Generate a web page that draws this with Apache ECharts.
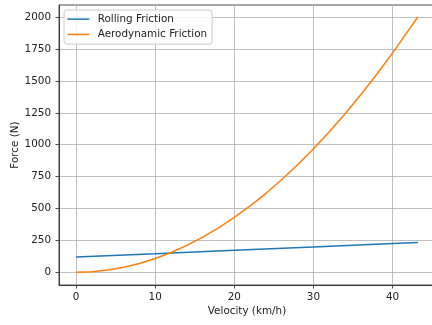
<!DOCTYPE html>
<html>
<head>
<meta charset="utf-8">
<script src="https://cdn.jsdelivr.net/npm/echarts@6/dist/echarts.min.js"></script>
<style>
  html, body { margin: 0; padding: 0; background: #fff; }
  #chart { width: 432px; height: 325px; }
</style>
</head>
<body>
<div id="chart"></div>
<script>
// velocity (km/h) and force (N)
let rollingV = [0, 10, 20, 30, 40, 43.2];
let rollingF = [120, 146, 173, 199, 226, 234];

let aeroV = [0, 2, 4, 6, 8, 10, 12, 14, 16, 18, 20, 22, 24, 26, 28, 30, 32, 34, 36, 38, 40, 42, 43.2];
let aeroF = [0, 4, 17, 39, 69, 108, 155, 211, 275, 348, 430, 520, 619, 727, 843, 968, 1101, 1243, 1393, 1552, 1720, 1896, 2003];

let xTicks = [0, 10, 20, 30, 40];
let yTicks = [0, 250, 500, 750, 1000, 1250, 1500, 1750, 2000];

const font = 'DejaVu Sans';
const fs = 10.4;

let chart = echarts.init(document.getElementById('chart'), null, { renderer: 'canvas' });

const option = {
    animation: false,
    backgroundColor: '#fff',
    textStyle: { fontFamily: font },
    grid: {
        left: 59, top: 5, right: -3, bottom: 40,
        outerBoundsMode: 'none',
        containLabel: false,
        show: true,
        borderColor: '#222',
        borderWidth: 0.8
    },
    legend: {
        left: 64,
        top: 10,
        orient: 'vertical',
        icon: 'rect',
        itemWidth: 22,
        itemHeight: 1.5,
        itemGap: 0,
        padding: [1.5, 5, 2, 3.3],
        borderColor: '#ccc',
        borderWidth: 1,
        borderRadius: 3,
        backgroundColor: 'rgba(255,255,255,0.8)',
        textStyle: { fontFamily: font, fontSize: fs, color: '#222', lineHeight: 15.3, padding: [0, 0, 0, 3.4] },
        data: ['Rolling Friction', 'Aerodynamic Friction']
    },
    xAxis: {
        type: 'value',
        min: -2.16,
        max: 45.36,
        name: 'Velocity (km/h)',
        nameLocation: 'middle',
        nameGap: 21,
        nameMoveOverlap: false,
        nameTextStyle: { fontFamily: font, fontSize: fs, color: '#222' },
        axisLine: { show: true, onZero: false, lineStyle: { color: '#222', width: 0.8 } },
        axisTick: { show: true, length: 3.5, inside: false, lineStyle: { color: '#222', width: 0.8 }, customValues: xTicks },
        axisLabel: { fontFamily: font, fontSize: fs, color: '#222', margin: 7, customValues: xTicks, formatter: v => String(v) },
        splitLine: { show: true, lineStyle: { color: '#b0b0b0', width: 0.8 } }
    },
    yAxis: {
        type: 'value',
        min: -99.75,
        max: 2095,
        name: 'Force (N)',
        nameLocation: 'middle',
        nameRotate: 90,
        nameGap: 39,
        nameMoveOverlap: false,
        nameTextStyle: { fontFamily: font, fontSize: fs, color: '#222' },
        axisLine: { show: true, onZero: false, lineStyle: { color: '#222', width: 0.8 } },
        axisTick: { show: true, length: 3.5, inside: false, lineStyle: { color: '#222', width: 0.8 }, customValues: yTicks },
        axisLabel: { fontFamily: font, fontSize: fs, color: '#222', margin: 8, customValues: yTicks, formatter: v => String(v) },
        splitLine: { show: true, lineStyle: { color: '#b0b0b0', width: 0.8 } }
    },
    series: [
        {
            name: 'Rolling Friction',
            type: 'line',
            symbol: 'none',
            lineStyle: { color: '#1f77b4', width: 1.5 },
            itemStyle: { color: '#1f77b4' },
            data: rollingV.map((v, i) => [v, rollingF[i]])
        },
        {
            name: 'Aerodynamic Friction',
            type: 'line',
            symbol: 'none',
            lineStyle: { color: '#ff7f0e', width: 1.5 },
            itemStyle: { color: '#ff7f0e' },
            data: aeroV.map((v, i) => [v, aeroF[i]])
        }
    ]
};
chart.setOption(option);
</script>
</body>
</html>
